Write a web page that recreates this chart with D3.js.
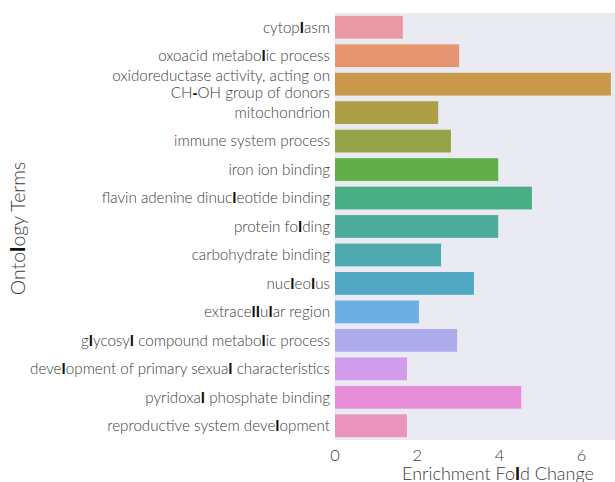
<!DOCTYPE html>
<html><head><meta charset="utf-8">
<script src="https://cdn.jsdelivr.net/npm/d3@7"></script>
<style>body{margin:0;background:#fff;} svg{display:block;}</style>
</head><body>
<svg id="chart" width="615" height="482"></svg>
<script>
const categories = [
  "cytoplasm",
  "oxoacid metabolic process",
  "oxidoreductase activity, acting on\nCH-OH group of donors",
  "mitochondrion",
  "immune system process",
  "iron ion binding",
  "flavin adenine dinucleotide binding",
  "protein folding",
  "carbohydrate binding",
  "nucleolus",
  "extracellular region",
  "glycosyl compound metabolic process",
  "development of primary sexual characteristics",
  "pyridoxal phosphate binding",
  "reproductive system development"
];
const values = [1.65, 3.02, 6.71, 2.51, 2.82, 3.97, 4.79, 3.97, 2.58, 3.38, 2.04, 2.97, 1.75, 4.53, 1.75];
const colors = ["#ea98a4","#e59572","#c8994b","#ad9f48","#97a348","#62ae48","#4aae84","#4cad9c","#4daaae","#50a9c4","#6aaee3","#adabeb","#d09be8","#e68cd9","#e994bd"];
const xTicks = [0, 2, 4, 6];
const xLabel = "Enrichment Fold Change";
const yLabel = "Ontology Terms";

const svg = d3.select("#chart");
const mLeft = 335, mTop = 13, mBottom = 440, mRight = 661;
const font = "Lato, 'Open Sans', sans-serif";
const textColor = "#3c3c3c";

const x = d3.scaleLinear().domain([0, 7.93]).range([mLeft, mRight]);
const y = d3.scaleBand().domain(categories).range([mTop, mBottom]).paddingInner(0.2).paddingOuter(0.1);

svg.append("rect").attr("x", mLeft).attr("y", mTop).attr("width", mRight - mLeft).attr("height", mBottom - mTop).attr("fill", "#eaeaf2");

svg.selectAll("rect.bar").data(categories).join("rect").attr("class", "bar")
  .attr("x", x(0)).attr("y", d => y(d))
  .attr("width", (d, i) => x(values[i]) - x(0))
  .attr("height", y.bandwidth())
  .attr("fill", (d, i) => colors[i]);

function addStyledText(sel, str) {
  const parts = str.split(/((?<!f)l|-)/);
  parts.forEach(p => {
    if (!p) return;
    const t = sel.append("tspan").text(p);
    if (p === "l" || p === "-") t.attr("font-weight", "bold").attr("fill", "#111").attr("font-family", "'Liberation Sans Narrow', 'Liberation Sans', sans-serif");
  });
}

const yAxis = svg.append("g");
categories.forEach((c, i) => {
  const lines = c.split("\n");
  const cy = y(c) + y.bandwidth() / 2;
  const lh = 17;
  lines.forEach((ln, j) => {
    const t = yAxis.append("text")
      .attr("x", mLeft - 5)
      .attr("y", cy + (j - (lines.length - 1) / 2) * lh)
      .attr("dy", "0.35em")
      .attr("text-anchor", "end")
      .attr("font-family", font).attr("font-weight", 300).attr("font-size", 15.2).attr("fill", textColor);
    addStyledText(t, ln);
  });
});

const xAxis = svg.append("g");
xTicks.forEach(v => {
  xAxis.append("text").attr("x", x(v)).attr("y", 455).attr("dy", "0.35em")
    .attr("text-anchor", "middle").attr("font-family", font).attr("font-weight", 300).attr("font-size", 16.5).attr("fill", textColor).text(v);
});

const xl = svg.append("text").attr("x", (mLeft + mRight) / 2).attr("y", 480)
  .attr("text-anchor", "middle").attr("font-family", font).attr("font-weight", 300).attr("font-size", 18).attr("fill", textColor);
addStyledText(xl, xLabel);

const yl = svg.append("text").attr("transform", `translate(25,${(mTop + mBottom) / 2 + 2}) rotate(-90)`)
  .attr("text-anchor", "middle").attr("font-family", font).attr("font-weight", 300).attr("font-size", 19.5).attr("fill", textColor);
addStyledText(yl, yLabel);
</script>
</body></html>
